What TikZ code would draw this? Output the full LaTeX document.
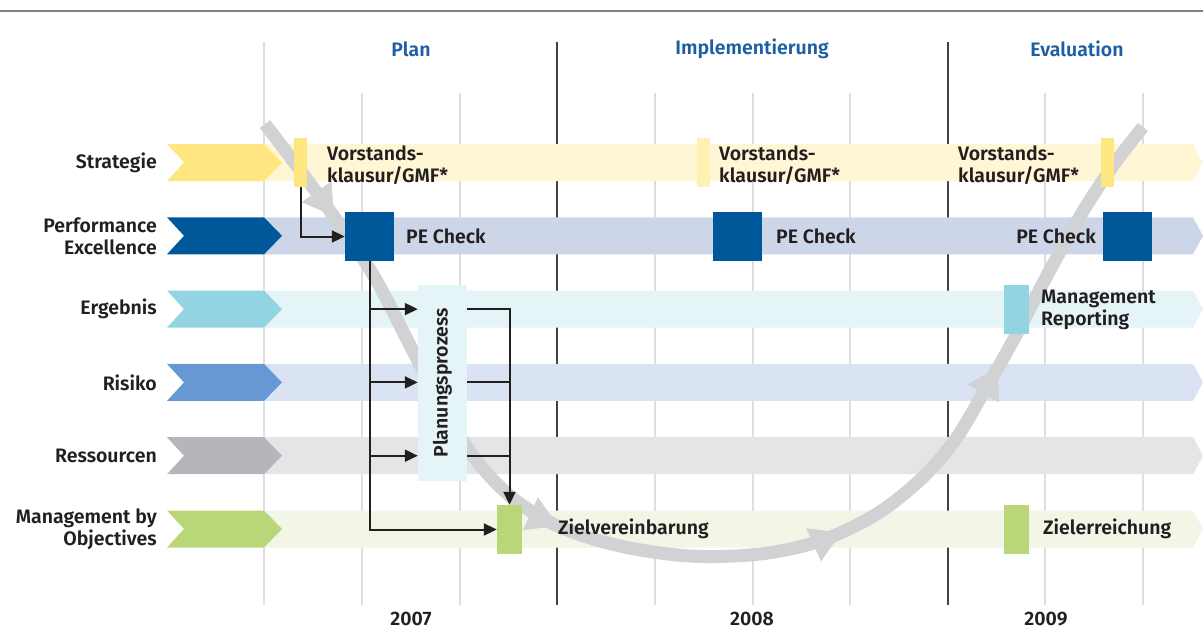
\documentclass[tikz,border=0pt]{standalone}
\usepackage{fontspec}
\setmainfont{Fira Sans}[UprightFont={* SemiBold}]
\usepackage{graphicx}
\usetikzlibrary{arrows.meta, calc, decorations.markings}

\definecolor{txt}{HTML}{231F20}
\definecolor{head}{HTML}{1D5FA3}
\definecolor{stratdark}{HTML}{FFE680}
\definecolor{stratmid}{HTML}{FFF0B4}
\definecolor{stratlight}{HTML}{FFF6D6}
\definecolor{pedark}{HTML}{00589A}
\definecolor{pelight}{HTML}{CDD5E8}
\definecolor{ergdark}{HTML}{92D4E1}
\definecolor{erglight}{HTML}{E5F4F6}
\definecolor{risdark}{HTML}{6699D3}
\definecolor{rislight}{HTML}{DAE3F3}
\definecolor{resdark}{HTML}{B4B6B9}
\definecolor{reslight}{HTML}{E4E5E7}
\definecolor{mbodark}{HTML}{B9D778}
\definecolor{mbolight}{HTML}{F1F6E7}
\definecolor{swoosh}{HTML}{D1D2D4}
\definecolor{gridline}{HTML}{DEDEDE}

\tikzstyle{rowlabel} = [anchor=east, align=right, inner sep=0pt, text=txt, font=\fontsize{19.5}{22}\selectfont]
\tikzstyle{phase} = [inner sep=0pt, text=head, font=\fontsize{19.5}{22}\selectfont]
\tikzstyle{year} = [inner sep=0pt, text=txt, font=\fontsize{19.5}{22}\selectfont]
\tikzstyle{note} = [anchor=west, align=left, inner sep=0pt, text=txt, font=\fontsize{19.5}{22}\selectfont]
\tikzstyle{bar} = [rectangle, inner sep=0pt, minimum width=13pt, minimum height=49pt]
\tikzstyle{square} = [rectangle, inner sep=0pt, minimum size=49pt, fill=pedark]
\tikzstyle{tag} = [rectangle, inner sep=0pt, minimum width=25pt, minimum height=49pt]
\tikzstyle{planbox} = [rectangle, inner sep=0pt, minimum width=49pt, minimum height=196pt, fill=erglight, text=txt, font=\fontsize{19.5}{22}\selectfont]
\tikzstyle{arrow} = [line width=2pt, draw=txt, -{Triangle[length=13pt,width=12pt]}]
\tikzstyle{link} = [line width=2pt, draw=txt]
\tikzstyle{swooshline} = [draw=swoosh, line width=13pt, postaction={decorate}, decoration={markings,
    mark=at position 0.088 with {\arrow[swoosh]{Triangle[length=30pt,width=36pt,line width=0.5pt]}},
    mark=at position 0.385 with {\arrow[swoosh]{Triangle[length=30pt,width=36pt,line width=0.5pt]}},
    mark=at position 0.607 with {\arrow[swoosh]{Triangle[length=30pt,width=36pt,line width=0.5pt]}},
    mark=at position 0.785 with {\arrow[swoosh]{Triangle[length=30pt,width=36pt,line width=0.5pt]}}}]

\begin{document}
\begin{tikzpicture}[x=1pt, y=-1pt]
    \useasboundingbox (0,0) rectangle (1203,630);

    \draw [gray, line width=1.2pt] (0,11) -- (1203,11);
    \foreach \x in {362,460,655,753,850,1045,1143}
        \draw [gridline, line width=1.3pt] (\x,93) -- (\x,605);
    \draw [gridline, line width=1.3pt] (264,42) -- (264,605);
    \foreach \x in {557,948}
        \draw [txt!85, line width=1.3pt] (\x,42) -- (\x,605);

    \node (plan_head) [phase] at (411,49) {Plan};
    \node (impl_head) [phase] at (752,49) {Implementierung};
    \node (eval_head) [phase] at (1077,49) {Evaluation};

    \node (year1) [year] at (411,619) {2007};
    \node (year2) [year] at (752,619) {2008};
    \node (year3) [year] at (1046,619) {2009};

    \foreach \y/\dark/\light in {162.5/stratdark/stratlight, 235.8/pedark/pelight, 309.1/ergdark/erglight,
                                 382.4/risdark/rislight, 455.7/resdark/reslight, 529/mbodark/mbolight} {
        \fill [\light] (264,\y-18.5) -- (1193,\y-18.5) -- (1203,\y) -- (1193,\y+18.5) -- (264,\y+18.5) -- cycle;
        \fill [\dark] (167,\y-18.5) -- (264,\y-18.5) -- (282,\y) -- (264,\y+18.5) -- (167,\y+18.5) -- (184,\y) -- cycle;
    }

    \coordinate (row_strat) at (0,162.5);
    \coordinate (row_pe) at (0,235.8);
    \coordinate (row_erg) at (0,309.1);
    \coordinate (row_ris) at (0,382.4);
    \coordinate (row_res) at (0,455.7);
    \coordinate (row_mbo) at (0,529);

    \node (lab_strat) [rowlabel] at (157,162.5) {Strategie};
    \node (lab_pe) [rowlabel] at (157,235.8) {Performance\\Excellence};
    \node (lab_erg) [rowlabel] at (157,309.1) {Ergebnis};
    \node (lab_ris) [rowlabel] at (157,382.4) {Risiko};
    \node (lab_res) [rowlabel] at (157,455.7) {Ressourcen};
    \node (lab_mbo) [rowlabel] at (157,529) {Management by\\Objectives};

    \draw [swooshline] plot [smooth, tension=0.55] coordinates {
        (265,124) (300,170) (335,218) (375,278) (415,355) (450,420) (480,465) (515,500)
        (560,527) (620,546) (690,556) (760,554) (820,541) (875,515) (920,480) (955,440)
        (985,390) (1015,337) (1050,270) (1085,208) (1115,163) (1143,127)};

    \node (strat1) [bar, fill=stratdark] at (300.5,162.5) {};
    \node (strat2) [bar, fill=stratmid] at (703.5,162.5) {};
    \node (strat3) [bar, fill=stratdark] at (1107.5,162.5) {};
    \node (pe1) [square] at (369.5,236.5) {};
    \node (pe2) [square] at (737.5,236.5) {};
    \node (pe3) [square] at (1127.5,236.5) {};
    \node (erg_tag) [tag, fill=ergdark] at (1016.5,309.5) {};
    \node (mbo1) [tag, fill=mbodark] at (509.5,529.5) {};
    \node (mbo2) [tag, fill=mbodark] at (1016.5,529.5) {};
    \node (plan) [planbox] at (442.5,382.5) {\rotatebox{90}{Planungsprozess}};

    \node (klausur1) [note] at (327,165) {Vorstands-\\klausur/GMF*};
    \node (klausur2) [note] at (719,165) {Vorstands-\\klausur/GMF*};
    \node (klausur3) [note] at (958,165) {Vorstands-\\klausur/GMF*};
    \node (check1) [note] at (406,236) {PE Check};
    \node (check2) [note] at (776,236) {PE Check};
    \node (check3) [note, anchor=east] at (1096,236) {PE Check};
    \node (reporting) [note] at (1041,310) {Management\\Reporting};
    \node (vereinbarung) [note] at (558,529) {Zielvereinbarung};
    \node (erreichung) [note] at (1043,529) {Zielerreichung};

    \draw [arrow] (strat1.south) |- (pe1.west);
    \draw [arrow] (pe1.south) |- (mbo1.west);
    \draw [arrow] (pe1.south |- row_erg) -- (plan.west |- row_erg);
    \draw [arrow] (pe1.south |- row_ris) -- (plan.west |- row_ris);
    \draw [arrow] (pe1.south |- row_res) -- (plan.west |- row_res);
    \draw [arrow] (plan.east |- row_erg) -| (mbo1.north);
    \draw [link] (plan.east |- row_ris) -- (mbo1.north |- row_ris);
    \draw [link] (plan.east |- row_res) -- (mbo1.north |- row_res);
\end{tikzpicture}
\end{document}
